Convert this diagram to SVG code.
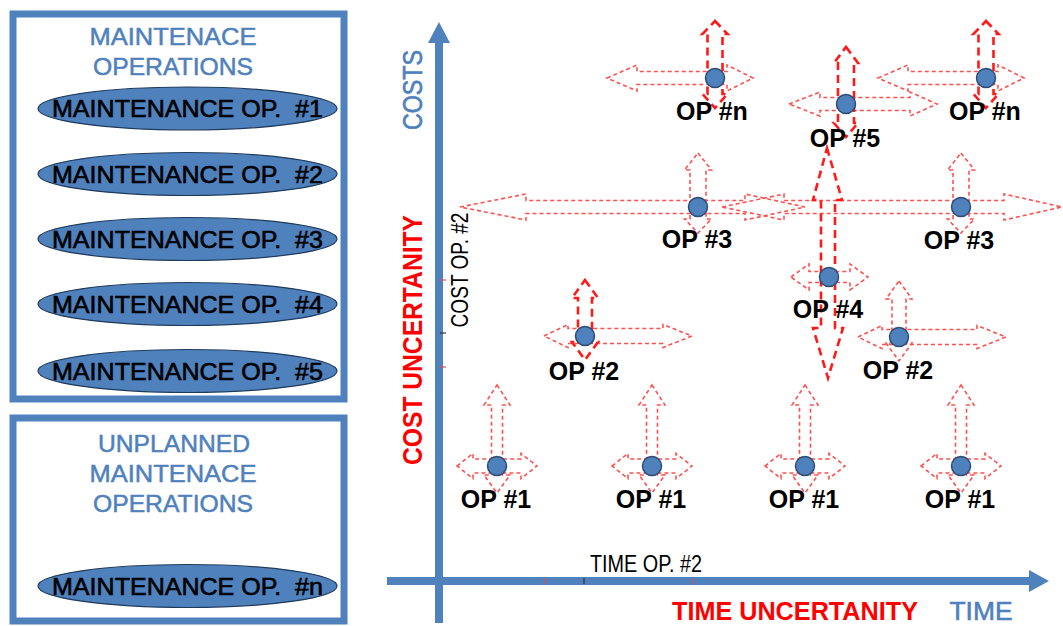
<svg xmlns="http://www.w3.org/2000/svg" xmlns:xlink="http://www.w3.org/1999/xlink" width="1063" height="626" viewBox="0 0 1063 626">
<style>
.box{fill:#fff;stroke:#4F81BD;stroke-width:7}
.ttl{font-family:"Liberation Sans",Arial,sans-serif;font-size:24px;fill:#4F81BD;stroke:#4F81BD;stroke-width:0.5;text-anchor:middle}
.op{fill:#4F81BD;stroke:#1F3B5C;stroke-width:1.2}
.opt{font-family:"Liberation Sans",Arial,sans-serif;font-size:24px;fill:#000;stroke:#000;stroke-width:0.6;text-anchor:middle;white-space:pre}
.thin{fill:none;stroke:#FF5050;stroke-width:1.6;stroke-dasharray:4 3}
.thick{fill:none;stroke:#FF1A1A;stroke-width:2.6;stroke-dasharray:8 5}
.dot{fill:#4F81BD;stroke:#2C4D75;stroke-width:1.5}
.lbl{font-family:"Liberation Sans",Arial,sans-serif;font-size:25px;font-weight:bold;fill:#000;text-anchor:middle}
.ax{fill:none;stroke:#4F81BD;stroke-width:8}
.axh{fill:#4F81BD}
.red{font-family:"Liberation Sans",Arial,sans-serif;font-weight:bold;fill:#FF0000;text-anchor:middle}
.blue{font-family:"Liberation Sans",Arial,sans-serif;fill:#4F81BD;stroke:#4F81BD;stroke-width:0.6;text-anchor:middle}
.small{font-family:"Liberation Sans",Arial,sans-serif;font-size:23px;fill:#000}
.tick{stroke-width:1.2}
</style>
<defs>
<polygon id="v1" points="0,-81 13,-61 5.5,-61 5.5,9 13,9 0,27 -13,9 -5.5,9 -5.5,-61 -13,-61"/>
<polygon id="h1" points="-40,0 -24,-12.5 -24,-7 24,-7 24,-12.5 40,0 24,12.5 24,7 -24,7 -24,12.5"/>
<polygon id="h2" points="-41,0 -17,-11.5 -17,-7.5 78,-7.5 78,-11.5 107,0 78,11.5 78,7.5 -17,7.5 -17,11.5"/>
<polygon id="v2" points="0,-56 13,-38 7,-38 7,6 13,6 0,24 -13,6 -7,6 -7,-38 -13,-38"/>
<polygon id="v3" points="0,-54 13.5,-37 8,-37 8,12 13.5,12 0,26 -13.5,12 -8,12 -8,-37 -13.5,-37"/>
<polygon id="hn" points="-108,0 -78,-13 -78,-6.5 12,-6.5 12,-13 38,0 12,13 12,6.5 -78,6.5 -78,13"/>
<polygon id="vn" points="0,-57 12.5,-44 7.5,-44 7.5,16 12.5,16 0,30 -12.5,16 -7.5,16 -7.5,-44 -12.5,-44"/>
</defs>
<rect width="1063" height="626" fill="#fff"/>

<g id="planned-panel">
<rect class="box" x="13" y="14" width="331" height="385"/>
<text class="ttl" x="173" y="45" textLength="167" lengthAdjust="spacingAndGlyphs">MAINTENACE</text>
<text class="ttl" x="173" y="75" textLength="160" lengthAdjust="spacingAndGlyphs">OPERATIONS</text>
</g>
<g id="maint-op-1"><ellipse class="op" cx="187.5" cy="108.5" rx="149.5" ry="21.5"/><text class="opt" x="187.5" y="117" textLength="271" lengthAdjust="spacingAndGlyphs" xml:space="preserve">MAINTENANCE OP.  #1</text></g>
<g id="maint-op-2"><ellipse class="op" cx="187.5" cy="174" rx="149.5" ry="21.5"/><text class="opt" x="187.5" y="182.5" textLength="271" lengthAdjust="spacingAndGlyphs" xml:space="preserve">MAINTENANCE OP.  #2</text></g>
<g id="maint-op-3"><ellipse class="op" cx="187.5" cy="239" rx="149.5" ry="21.5"/><text class="opt" x="187.5" y="247.5" textLength="271" lengthAdjust="spacingAndGlyphs" xml:space="preserve">MAINTENANCE OP.  #3</text></g>
<g id="maint-op-4"><ellipse class="op" cx="187.5" cy="304" rx="149.5" ry="21.5"/><text class="opt" x="187.5" y="312.5" textLength="271" lengthAdjust="spacingAndGlyphs" xml:space="preserve">MAINTENANCE OP.  #4</text></g>
<g id="maint-op-5"><ellipse class="op" cx="187.5" cy="371" rx="149.5" ry="21.5"/><text class="opt" x="187.5" y="379.5" textLength="271" lengthAdjust="spacingAndGlyphs" xml:space="preserve">MAINTENANCE OP.  #5</text></g>

<g id="unplanned-panel">
<rect class="box" x="13" y="418" width="331" height="203"/>
<text class="ttl" x="174" y="452" textLength="152" lengthAdjust="spacingAndGlyphs">UNPLANNED</text>
<text class="ttl" x="173" y="482" textLength="167" lengthAdjust="spacingAndGlyphs">MAINTENACE</text>
<text class="ttl" x="173" y="512" textLength="160" lengthAdjust="spacingAndGlyphs">OPERATIONS</text>
</g>
<g id="maint-op-n"><ellipse class="op" cx="187.5" cy="586" rx="149.5" ry="21.5"/><text class="opt" x="187.5" y="594.5" textLength="271" lengthAdjust="spacingAndGlyphs" xml:space="preserve">MAINTENANCE OP.  #n</text></g>

<g id="connectors">
<line class="ax" x1="439" y1="623" x2="439" y2="40"/>
<polygon class="axh" points="439,22 450,43 428,43"/>
<line class="ax" x1="387" y1="581" x2="1032" y2="581"/>
<polygon class="axh" points="1049,581 1029,570 1029,592"/>
<line class="tick" stroke="#E05050" x1="440" y1="280" x2="446" y2="280"/>
<line class="tick" stroke="#333" x1="440" y1="333" x2="446" y2="333"/>
<line class="tick" stroke="#E05050" x1="440" y1="367" x2="446" y2="367"/>
<line class="tick" stroke="#E05050" x1="545" y1="578" x2="545" y2="584"/>
<line class="tick" stroke="#333" x1="584" y1="578" x2="584" y2="584"/>
<line class="tick" stroke="#E05050" x1="693" y1="578" x2="693" y2="584"/>
</g>

<g id="axis-labels">
<text class="blue" font-size="27" transform="translate(422,90) rotate(-90)" textLength="80" lengthAdjust="spacingAndGlyphs">COSTS</text>
<text class="red" font-size="28" transform="translate(422,340) rotate(-90)" textLength="250" lengthAdjust="spacingAndGlyphs">COST UNCERTANITY</text>
<text class="small" text-anchor="middle" transform="translate(468,270) rotate(-90)" textLength="115" lengthAdjust="spacingAndGlyphs">COST OP. #2</text>
<text class="small" x="590" y="572" textLength="112" lengthAdjust="spacingAndGlyphs">TIME OP. #2</text>
<text class="red" font-size="26" x="795" y="620" textLength="246" lengthAdjust="spacingAndGlyphs">TIME UNCERTANITY</text>
<text class="blue" font-size="26" x="981" y="620" textLength="63" lengthAdjust="spacingAndGlyphs">TIME</text>
</g>

<g id="op1-a"><use xlink:href="#v1" class="thin" x="497" y="466"/><use xlink:href="#h1" class="thin" x="497" y="466"/><circle class="dot" cx="497" cy="466" r="9.5"/><text class="lbl" x="496" y="508">OP #1</text></g>
<g id="op1-b"><use xlink:href="#v1" class="thin" x="652" y="466"/><use xlink:href="#h1" class="thin" x="652" y="466"/><circle class="dot" cx="652" cy="466" r="9.5"/><text class="lbl" x="651" y="508">OP #1</text></g>
<g id="op1-c"><use xlink:href="#v1" class="thin" x="805" y="466"/><use xlink:href="#h1" class="thin" x="805" y="466"/><circle class="dot" cx="805" cy="466" r="9.5"/><text class="lbl" x="804" y="508">OP #1</text></g>
<g id="op1-d"><use xlink:href="#v1" class="thin" x="961" y="466"/><use xlink:href="#h1" class="thin" x="961" y="466"/><circle class="dot" cx="961" cy="466" r="9.5"/><text class="lbl" x="960" y="508">OP #1</text></g>

<g id="op2-a"><use xlink:href="#h2" class="thin" x="585" y="336"/><use xlink:href="#v2" class="thick" x="585" y="336"/><circle class="dot" cx="585" cy="336" r="9.5"/><text class="lbl" x="584" y="380">OP #2</text></g>
<g id="op2-b"><use xlink:href="#h2" class="thin" x="899" y="337"/><use xlink:href="#v2" class="thin" x="899" y="337"/><circle class="dot" cx="899" cy="337" r="9.5"/><text class="lbl" x="898" y="379">OP #2</text></g>

<g id="op3-a"><polygon class="thin" points="460,207 526,194 526,200.5 745,200.5 745,194 805,207 745,220 745,213.5 526,213.5 526,220"/><use xlink:href="#v3" class="thin" x="698" y="207"/><circle class="dot" cx="698" cy="207" r="9.5"/><text class="lbl" x="697" y="248">OP #3</text></g>
<g id="op3-b"><polygon class="thin" points="722,207 784,194 784,200.5 1004,200.5 1004,194 1062,207 1004,220 1004,213.5 784,213.5 784,220"/><use xlink:href="#v3" class="thin" x="961" y="207"/><circle class="dot" cx="961" cy="207" r="9.5"/><text class="lbl" x="959" y="249">OP #3</text></g>

<g id="op4"><polygon class="thin" points="791,277 809,264 809,271.5 850,271.5 850,264 868,277 850,290 850,282.5 809,282.5 809,290"/><polygon class="thick" points="827,148 842,200 835,200 835,328 843,328 828,378 813,328 821,328 821,200 813,200"/><circle class="dot" cx="829" cy="277" r="9.5"/><text class="lbl" x="828" y="318">OP #4</text></g>

<g id="op5"><polygon class="thin" points="789,104 820,92 820,97.5 910,97.5 910,92 937,104 910,116 910,110.5 820,110.5 820,116"/><polygon class="thick" points="846,47 858,63 854,63 854,123 858,123 846,137 834,123 838,123 838,63 834,63"/><circle class="dot" cx="846" cy="104" r="9.5"/><text class="lbl" x="845" y="147">OP #5</text></g>

<g id="opn-a"><use xlink:href="#hn" class="thin" x="715" y="78"/><use xlink:href="#vn" class="thick" x="715" y="78"/><circle class="dot" cx="715" cy="78" r="9.5"/><text class="lbl" x="712" y="120">OP #n</text></g>
<g id="opn-b"><use xlink:href="#hn" class="thin" x="986" y="78"/><use xlink:href="#vn" class="thick" x="986" y="78"/><circle class="dot" cx="986" cy="78" r="9.5"/><text class="lbl" x="985" y="120">OP #n</text></g>
</svg>
